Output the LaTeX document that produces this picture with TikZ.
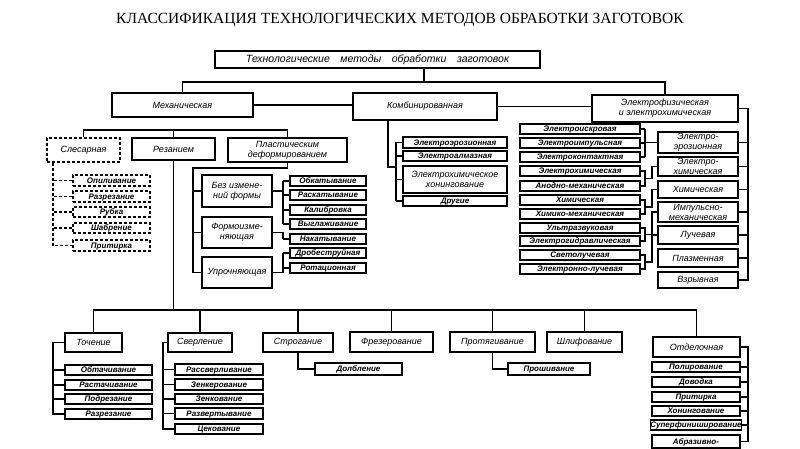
\documentclass[tikz,border=0pt]{standalone}
\usepackage{fontspec}
\setmainfont{Liberation Serif}
\newfontfamily\lbl{Liberation Sans}
\usetikzlibrary{calc}
\newcommand\bx[7][]{\node[box,#1,minimum width={(#5-#3)*1pt},minimum height={(#6-#4)*1pt}] (#2) at ({(#3+#5)/2},{(#4+#6)/2}) {#7};}
\begin{document}
\begin{tikzpicture}[x=1pt,y=-1pt,
 box/.style={draw,line width=1.2pt,inner sep=0pt,font=\lbl\itshape\fontsize{9}{10}\selectfont},
 two/.style={align=center},
 sm/.style={font=\lbl\bfseries\itshape\fontsize{8}{9}\selectfont,text height=5.8pt,text depth=0.4pt},
 dsh/.style={dash pattern=on 3pt off 2pt},
 conn/.style={line width=1.1pt}]
\useasboundingbox[fill=white] (0,0) rectangle (800,449);

\node[font=\fontsize{15.5}{18}\selectfont] (title) at (400,20) {КЛАССИФИКАЦИЯ ТЕХНОЛОГИЧЕСКИХ МЕТОДОВ ОБРАБОТКИ ЗАГОТОВОК};

% level 1
\bx[font=\lbl\itshape\fontsize{10.5}{12}\selectfont]{top}{215}{51}{540}{68}{Технологические\quad методы\quad обработки\quad заготовок}
\bx{mech}{112}{93}{253}{117}{Механическая}
\bx{comb}{353}{93}{497}{120}{Комбинированная}
\bx[two]{elf}{592}{95}{738}{122}{Электрофизическая\\и электрохимическая}

% mechanical
\bx[dsh]{slc}{47}{138}{120}{162}{Слесарная}
\bx{rez}{132}{138}{215}{160}{Резанием}
\bx[two]{plast}{228}{138}{347}{162}{Пластическим\\деформированием}

\bx[dsh,sm]{op}{73}{175}{150}{186}{Опиливание}
\bx[dsh,sm]{razr1}{73}{191}{150}{202}{Разрезание}
\bx[dsh,sm]{rub}{73}{207}{150}{217}{Рубка}
\bx[dsh,sm]{shab}{73}{223}{150}{233}{Шабрение}
\bx[dsh,sm]{prit1}{73}{240}{150}{251}{Притирка}

\bx[two]{bez}{202}{175}{272}{207}{Без измене-\\ний формы}
\bx[two]{form}{202}{217}{272}{248}{Формоизме-\\няющая}
\bx{upr}{202}{257}{272}{288}{Упрочняющая}

\bx[sm]{obk}{290}{176}{366}{186}{Обкатывание}
\bx[sm]{rask}{290}{190}{366}{200}{Раскатывание}
\bx[sm]{kal}{290}{205}{366}{215}{Калибровка}
\bx[sm]{vyg}{290}{219}{366}{229}{Выглаживание}
\bx[sm]{nak}{290}{234}{366}{244}{Накатывание}
\bx[sm]{drob}{290}{248}{366}{258}{Дробеструйная}
\bx[sm]{rot}{290}{263}{366}{273}{Ротационная}

% combined
\bx[sm]{eer}{403}{137}{507}{148}{Электроэрозионная}
\bx[sm]{ealm}{403}{151}{507}{161}{Электроалмазная}
\bx[two]{ehon}{403}{166}{507}{193}{Электрохимическое\\хонингование}
\bx[sm]{dr}{403}{196}{507}{206}{Другие}

% electrophysical
\bx[sm]{ei}{520}{124}{640}{134}{Электроискровая}
\bx[sm]{eimp}{520}{138}{640}{148}{Электроимпульсная}
\bx[sm]{ek}{520}{152}{640}{162}{Электроконтактная}
\bx[sm]{ech}{520}{166}{640}{176}{Электрохимическая}
\bx[sm]{anod}{520}{181}{640}{191}{Анодно-механическая}
\bx[sm]{him}{520}{195}{640}{205}{Химическая}
\bx[sm]{hm}{520}{209}{640}{219}{Химико-механическая}
\bx[sm]{uz}{520}{223}{640}{233}{Ультразвуковая}
\bx[sm]{eg}{520}{236}{640}{246}{Электрогидравлическая}
\bx[sm]{svet}{520}{250}{640}{260}{Светолучевая}
\bx[sm]{elu}{520}{264}{640}{274}{Электронно-лучевая}

\bx[two]{ee}{658}{132}{738}{153}{Электро-\\эрозионная}
\bx[two]{ech2}{658}{157}{738}{176}{Электро-\\химическая}
\bx{him2}{658}{181}{738}{198}{Химическая}
\bx[two]{imp}{658}{202}{738}{222}{Импульсно-\\механическая}
\bx{luch}{658}{226}{738}{244}{Лучевая}
\bx{plaz}{658}{249}{738}{267}{Плазменная}
\bx{vzr}{658}{272}{738}{288}{Взрывная}

% cutting
\bx{toch}{65}{333}{122}{352}{Точение}
\bx{sv}{168}{333}{232}{352}{Сверление}
\bx{str}{263}{333}{333}{352}{Строгание}
\bx{fr}{350}{332}{433}{352}{Фрезерование}
\bx{prot}{450}{332}{535}{352}{Протягивание}
\bx{shl}{547}{332}{622}{352}{Шлифование}
\bx{otd}{653}{337}{740}{357}{Отделочная}

\bx[sm]{obt}{65}{365}{152}{375}{Обтачивание}
\bx[sm]{rast}{65}{380}{152}{390}{Растачивание}
\bx[sm]{podr}{65}{394}{152}{404}{Подрезание}
\bx[sm]{rzr}{65}{409}{152}{419}{Разрезание}

\bx[sm]{rsv}{175}{364}{263}{375}{Рассверливание}
\bx[sm]{zenk}{175}{379}{263}{390}{Зенкерование}
\bx[sm]{zenkov}{175}{394}{263}{404}{Зенкование}
\bx[sm]{razv}{175}{408}{263}{419}{Развертывание}
\bx[sm]{cek}{175}{424}{263}{434}{Цекование}

\bx[sm]{dol}{315}{363}{402}{375}{Долбление}
\bx[sm]{prosh}{508}{363}{590}{375}{Прошивание}

\bx[sm]{pol}{652}{362}{740}{372}{Полирование}
\bx[sm]{dov}{652}{377}{740}{387}{Доводка}
\bx[sm]{prit2}{652}{392}{740}{402}{Притирка}
\bx[sm]{hon}{652}{406}{740}{416}{Хонингование}
\bx[sm]{sup}{652}{420}{740}{430}{Суперфиниширование}
\bx[sm]{abr}{652}{435}{740}{448}{Абразивно-}

% coordinates
\coordinate (b1) at (424,82);
\coordinate (b2) at (176,130);
\coordinate (b3) at (176,310);
\coordinate (pl1) at (193,168);
\coordinate (k1) at (283,0);
\coordinate (cx) at (388,167);
\coordinate (c1) at (396,0);
\coordinate (gx) at (645,0);
\coordinate (gy) at (652,0);
\coordinate (r1) at (748,0);
\coordinate (sl) at (53,0);
\coordinate (tx) at (53,0);
\coordinate (sx) at (163,0);
\coordinate (ox) at (748,0);

% connectors level 1
\draw[conn] (top.south -| b1) -- (b1);
\draw[conn] (mech.north) |- (b1) -| (elf.north);
\draw[conn] (mech.east) -- (mech.east -| comb.west);
\draw[conn] (comb.east) -- (comb.east -| elf.west);

% mechanical
\draw[conn] (slc.north) |- (b2) -| (plast.north);
\draw[conn] (rez.north) -- (rez.north |- b2);
\draw[conn,dsh] (slc.south -| sl) |- (prit1.west);
\foreach \n in {op,razr1,rub,shab} \draw[conn,dsh] (\n.west) -- (\n.west -| sl);

\draw[conn] (plast.south) |- (pl1) |- (upr.west);
\draw[conn] (bez.west) -- (bez.west -| pl1);
\draw[conn] (form.west) -- (form.west -| pl1);
\draw[conn] (bez.east) -- (bez.east -| k1);
\draw[conn] (obk.west -| k1) -- (vyg.west -| k1);
\foreach \n in {obk,rask,kal,vyg,nak,drob,rot} \draw[conn] (\n.west) -- (\n.west -| k1);
\draw[conn] (form.east) -- (form.east -| k1) -- (nak.west -| k1);
\draw[conn] (upr.east) -- (upr.east -| k1) -- (drob.west -| k1);

% combined
\draw[conn] (comb.south -| cx) -- (cx) -- (cx -| c1);
\draw[conn] (eer.west -| c1) -- (dr.west -| c1);
\foreach \n in {eer,ealm,ehon,dr} \draw[conn] (\n.west) -- (\n.west -| c1);

% electrophysical
\draw[conn] (elf.east) -- (elf.east -| r1) -- (vzr.east -| r1) -- (vzr.east);
\foreach \n in {ee,ech2,him2,imp,luch,plaz} \draw[conn] (\n.east) -- (\n.east -| r1);
\draw[conn] (ei.east -| gx) -- (ek.east -| gx);
\foreach \n in {ei,eimp,ek} \draw[conn] (\n.east) -- (\n.east -| gx);
\draw[conn] (ee.west -| gx) -- (ee.west);
\foreach \a/\b/\t in {ech/anod/ech2,him/hm/him2,uz/eg/imp,svet/elu/luch}{
 \draw[conn] (\a.east) -- (\a.east -| gx) -- (\b.east -| gx) -- (\b.east);
 \draw[conn] ($(\a.east -| gx)!.5!(\b.east -| gx)$) -| (\t.west -| gy) -- (\t.west);
}

% cutting
\draw[conn] (rez.south) -- (rez.south |- b3);
\draw[conn] (toch.north) |- (b3) -| (otd.north);
\foreach \n in {sv,str,fr,prot,shl} \draw[conn] (\n.north) -- (\n.north |- b3);

\draw[conn] (toch.west) -- (toch.west -| tx) |- (rzr.west);
\foreach \n in {obt,rast,podr} \draw[conn] (\n.west) -- (\n.west -| tx);
\draw[conn] (sv.west) -- (sv.west -| sx) |- (cek.west);
\foreach \n in {rsv,zenk,zenkov,razv} \draw[conn] (\n.west) -- (\n.west -| sx);
\draw[conn] (str.south) |- (dol.west);
\draw[conn] (prot.south) |- (prosh.west);
\draw[conn] (otd.east) -- (otd.east -| ox) |- (abr.east);
\foreach \n in {pol,dov,prit2,hon,sup} \draw[conn] (\n.east) -- (\n.east -| ox);
\end{tikzpicture}
\end{document}
